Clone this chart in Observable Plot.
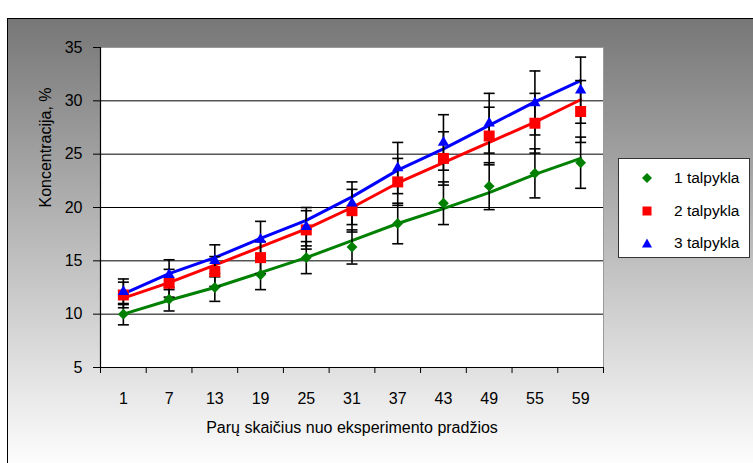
<!DOCTYPE html>
<html>
<head>
<meta charset="utf-8">
<script src="https://cdn.jsdelivr.net/npm/d3@7"></script>
<script src="https://cdn.jsdelivr.net/npm/@observablehq/plot@0.6"></script>
<style>
  html, body { margin: 0; padding: 0; background: #fff; }
  #wrap { position: relative; width: 753px; height: 463px; overflow: hidden; background: #fff; font-family: "Liberation Sans", Arial, sans-serif; }
  #bg { position: absolute; left: 7px; top: 18px; width: 780px; height: 480px; border-left: 1px solid #000; border-top: 1px solid #000;
        background: linear-gradient(to bottom, #777777 0px, #fdfdfd 445px); }
  #chart { position: absolute; left: 0; top: 0; }
  #legend { position: absolute; left: 618px; top: 158px; width: 130px; height: 98px; border: 1px solid #333; background: #fff; }
  .row { position: absolute; left: 0; height: 20px; display: flex; align-items: center; font-size: 15.5px; color: #000; }
  .row svg { position: absolute; left: 23px; }
  .row span { position: absolute; left: 55px; white-space: nowrap; }
</style>
</head>
<body>
<div id="wrap">
  <div id="bg"></div>
  <div id="chart"></div>
  <div id="legend"></div>
</div>
<script>
// ---- data ----
const categories = ["1", "7", "13", "19", "25", "31", "37", "43", "49", "55", "59"];
const seriesNames = ["1 talpykla", "2 talpykla", "3 talpykla"];
const seriesColors = ["#008000", "#ff0000", "#0000ff"];
const seriesSymbols = ["diamond2", "square", "triangle"];

// measured values (markers)
const values1 = [10.0, 11.4, 12.5, 13.7, 15.3, 16.3, 18.5, 20.4, 22.0, 23.2, 24.2];
const values2 = [11.8, 12.9, 14.0, 15.3, 17.9, 19.7, 22.4, 24.6, 26.7, 27.9, 29.0];
const values3 = [12.1, 13.7, 15.0, 17.0, 18.2, 20.4, 23.7, 26.1, 27.9, 29.8, 31.0];

// error bar half-lengths
const errors1 = [1.0, 1.1, 1.3, 1.4, 1.5, 1.6, 1.9, 2.0, 2.2, 2.3, 2.4];
const errors2 = [1.2, 1.3, 1.4, 1.5, 1.8, 2.0, 2.2, 2.5, 2.7, 2.8, 2.9];
const errors3 = [1.2, 1.4, 1.5, 1.7, 1.8, 2.0, 2.4, 2.6, 2.8, 3.0, 3.1];

// trend lines
const line1 = [10.0, 11.3, 12.5, 13.9, 15.3, 16.9, 18.5, 19.9, 21.4, 23.1, 24.6];
const line2 = [11.5, 12.95, 14.6, 16.3, 18.0, 20.0, 22.3, 24.2, 26.1, 28.0, 30.1];
const line3 = [11.9, 13.8, 15.3, 17.1, 18.8, 21.0, 23.5, 25.5, 27.7, 29.9, 31.9];

const yTicks = [5, 10, 15, 20, 25, 30, 35];
const yDomain = [5, 35];

// ---- build tables ----
const allValues = [values1, values2, values3];
const allErrors = [errors1, errors2, errors3];
const allLines = [line1, line2, line3];

const points = [];
const lines = [];
seriesNames.forEach((s, si) => {
  categories.forEach((c, i) => {
    points.push({series: s, si, i, v: allValues[si][i], lo: allValues[si][i] - allErrors[si][i], hi: allValues[si][i] + allErrors[si][i]});
    lines.push({series: s, si, i, v: allLines[si][i]});
  });
});

const n = categories.length;
const idx = d3.range(n);
const xDomain = [-0.5, n - 0.5];
const boundaries = d3.range(n + 1).map(k => k - 0.5);
const gridTicks = yTicks.filter(t => t > yDomain[0] && t < yDomain[1]);

const cap = {
  draw(context, size) {
    const r = Math.sqrt(size / Math.PI);
    context.moveTo(-r, 0);
    context.lineTo(r, 0);
  }
};

const chart = Plot.plot({
  width: 753,
  height: 463,
  marginLeft: 100,
  marginRight: 150,
  marginTop: 47,
  marginBottom: 96,
  style: {background: "transparent", fontFamily: "'Liberation Sans', Arial, sans-serif", fontSize: "16px", color: "#000"},
  x: {type: "linear", domain: xDomain, axis: null},
  y: {domain: yDomain, axis: null},
  marks: [
    Plot.frame({fill: "white", stroke: "#9a9a9a"}),
    Plot.gridY(gridTicks, {stroke: "#000", strokeOpacity: 1, strokeWidth: 1}),
    Plot.ruleX([xDomain[0]], {stroke: "#000", strokeWidth: 1.2}),
    Plot.ruleY([yDomain[0]], {stroke: "#000", strokeWidth: 1.2}),
    Plot.axisY(yTicks, {tickSize: 7, tickPadding: 11, fontSize: 16, label: null, stroke: "#000"}),
    Plot.axisX(boundaries, {tickSize: 6, tickFormat: () => "", label: null, stroke: "#000"}),
    Plot.axisX(idx, {tickSize: 0, tickPadding: 25, tickFormat: i => categories[i], label: null, fontSize: 16}),
    Plot.text(["Parų skaičius nuo eksperimento pradžios"], {frameAnchor: "bottom", dy: 65, fontSize: 16, fill: "#000"}),
    Plot.text(["Koncentracija, %"], {frameAnchor: "left", dx: -55, rotate: -90, fontSize: 16, fill: "#000"}),
    Plot.line(lines, {x: "i", y: "v", z: "series", stroke: d => seriesColors[d.si], strokeWidth: 3, curve: "linear"}),
    Plot.ruleX(points, {x: "i", y1: "lo", y2: "hi", stroke: "#000", strokeWidth: 1.6}),
    Plot.dot(points, {x: "i", y: "lo", symbol: cap, r: 5.5, stroke: "#000", strokeWidth: 1.6, fill: "none"}),
    Plot.dot(points, {x: "i", y: "hi", symbol: cap, r: 5.5, stroke: "#000", strokeWidth: 1.6, fill: "none"}),
    Plot.dot(points.filter(d => d.si === 0), {x: "i", y: "v", symbol: seriesSymbols[0], r: 4.9, fill: seriesColors[0]}),
    Plot.dot(points.filter(d => d.si === 1), {x: "i", y: "v", symbol: seriesSymbols[1], r: 6.2, fill: seriesColors[1]}),
    Plot.dot(points.filter(d => d.si === 2), {x: "i", y: "v", symbol: seriesSymbols[2], r: 4.2, fill: seriesColors[2]})
  ]
});
chart.style.color = "#000";
document.getElementById("chart").appendChild(chart);

// legend
const legend = document.getElementById("legend");
const legendShapes = [
  '<polygon points="5,0 10,5 5,10 0,5" fill="' + seriesColors[0] + '"/>',
  '<rect x="0.5" y="0.5" width="9" height="9" fill="' + seriesColors[1] + '"/>',
  '<polygon points="5,0.5 10,9.5 0,9.5" fill="' + seriesColors[2] + '"/>'
];
seriesNames.forEach((s, si) => {
  const row = document.createElement("div");
  row.className = "row";
  row.style.top = (9 + si * 32.5) + "px";
  row.style.width = "130px";
  row.innerHTML = '<svg width="10" height="10" viewBox="0 0 10 10">' + legendShapes[si] + '</svg><span>' + s + '</span>';
  legend.appendChild(row);
});
</script>
</body>
</html>
